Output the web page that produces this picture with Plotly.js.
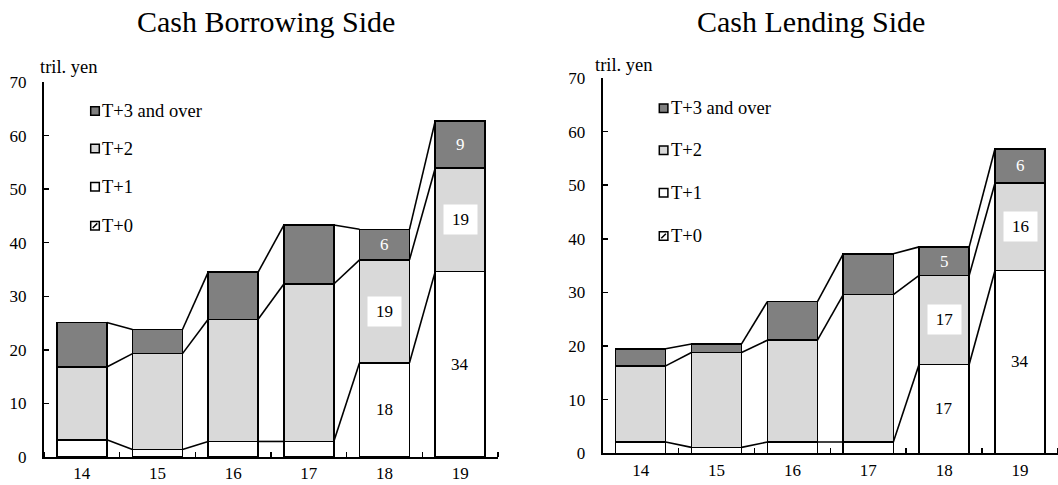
<!DOCTYPE html>
<html>
<head>
<meta charset="utf-8">
<script src="https://cdn.plot.ly/plotly-3.0.1.min.js"></script>
<style>html,body{margin:0;padding:0;background:#fff;}#chart{width:1058px;height:485px;}</style>
</head>
<body>
<div id="chart"></div>
<script>
// ---------- data ----------
const categories = ["14", "15", "16", "17", "18", "19"];
const seriesNames = ["T+3 and over", "T+2", "T+1", "T+0"];

const borrowT0 = [0, 0, 0, 0, 0, 0];
const borrowT1 = [3.2, 1.4, 2.9, 2.9, 17.6, 34.6];
const borrowT2 = [13.6, 17.9, 22.8, 29.4, 19.2, 19.3];
const borrowT3 = [8.3, 4.5, 8.8, 11.0, 5.7, 8.8];
const borrowLabelT1 = ["", "", "", "", "18", "34"];
const borrowLabelT2 = ["", "", "", "", "19", "19"];
const borrowLabelT3 = ["", "", "", "", "6", "9"];

const lendT0 = [0, 0, 0, 0, 0, 0];
const lendT1 = [2.1, 1.1, 2.1, 2.1, 16.6, 34.1];
const lendT2 = [14.2, 17.7, 19.0, 27.5, 16.6, 16.3];
const lendT3 = [3.2, 1.6, 7.2, 7.6, 5.3, 6.4];
const lendLabelT1 = ["", "", "", "", "17", "34"];
const lendLabelT2 = ["", "", "", "", "17", "16"];
const lendLabelT3 = ["", "", "", "", "5", "6"];

const yTickVals = [0, 10, 20, 30, 40, 50, 60, 70];
const unitLabel = "tril. yen";
const titleLeft = "Cash Borrowing Side";
const titleRight = "Cash Lending Side";

// ---------- style ----------
const W = 1058, H = 485;
const FONT = "Liberation Serif";
const BW = 0.66;
const C3 = "#808080", C2 = "#d9d9d9", C1 = "#ffffff";
const LW = 1.6;
const px = x => x / W;
const py = y => 1 - y / H;

const traces = [];
const annotations = [];
const shapes = [];

function panel(xa, ya, t0, t1, t2, t3, l1, l2, l3) {
  const xs = categories.map((c, i) => i);
  const segs = [
    {v: t0, fill: "#ffffff", pattern: {shape: "/", fgcolor: "#000", bgcolor: "#fff", size: 4, solidity: 0.2}},
    {v: t1, fill: C1},
    {v: t2, fill: C2},
    {v: t3, fill: C3}
  ];
  segs.forEach((s, k) => {
    const m = {color: s.fill, line: {color: "#000", width: LW}};
    if (s.pattern) m.pattern = s.pattern;
    traces.push({type: "bar", x: xs, y: s.v, width: BW, marker: m, xaxis: xa, yaxis: ya,
      showlegend: false, hoverinfo: "skip"});
  });
  // cumulative tops
  const top1 = xs.map(i => t0[i] + t1[i]);
  const top2 = xs.map(i => top1[i] + t2[i]);
  const top3 = xs.map(i => top2[i] + t3[i]);
  [top1, top2, top3].forEach(top => {
    const lx = [], ly = [];
    for (let i = 0; i < xs.length - 1; i++) {
      lx.push(xs[i] + BW / 2, xs[i + 1] - BW / 2, null);
      ly.push(top[i], top[i + 1], null);
    }
    traces.push({type: "scatter", mode: "lines", x: lx, y: ly, xaxis: xa, yaxis: ya,
      line: {color: "#000", width: LW}, showlegend: false, hoverinfo: "skip"});
  });
  const xr = xa === "x" ? "x" : "x2";
  const yr = ya === "y" ? "y" : "y2";
  xs.forEach(i => {
    if (l1[i]) annotations.push({x: i, y: t0[i] + t1[i] / 2, xref: xr, yref: yr, text: l1[i], showarrow: false,
      font: {family: FONT, size: 17, color: "#000"}});
    if (l2[i]) annotations.push({x: i, y: top1[i] + t2[i] / 2, xref: xr, yref: yr, text: l2[i], showarrow: false,
      font: {family: FONT, size: 17, color: "#000"}, bgcolor: "#ffffff", width: 31, height: 27});
    if (l3[i]) annotations.push({x: i, y: top2[i] + t3[i] / 2, xref: xr, yref: yr, text: l3[i], showarrow: false,
      font: {family: FONT, size: 17, color: "#ffffff"}});
  });
}

panel("x", "y", borrowT0, borrowT1, borrowT2, borrowT3, borrowLabelT1, borrowLabelT2, borrowLabelT3);
panel("x2", "y2", lendT0, lendT1, lendT2, lendT3, lendLabelT1, lendLabelT2, lendLabelT3);

// manual legends
function legend(sqX, textX, rows) {
  const fills = [C3, C2, C1, "#ffffff"];
  const S = 8.6;
  seriesNames.forEach((n, k) => {
    const cy = rows[k];
    shapes.push({type: "rect", xref: "paper", yref: "paper", x0: px(sqX), x1: px(sqX + S),
      y0: py(cy + S / 2), y1: py(cy - S / 2), fillcolor: fills[k], line: {color: "#000", width: 1.5}});
    if (k === 3) {
      shapes.push({type: "line", xref: "paper", yref: "paper", x0: px(sqX + 2), x1: px(sqX + S - 2),
        y0: py(cy + S / 2 - 2), y1: py(cy - S / 2 + 2), line: {color: "#000", width: 1.5}});
    }
    annotations.push({xref: "paper", yref: "paper", x: px(textX), y: py(cy), xanchor: "left", yanchor: "middle",
      text: n, showarrow: false, font: {family: FONT, size: 18.5, color: "#000"}});
  });
}
legend(90.7, 100, [111, 148.5, 186.7, 225.7]);
legend(659.3, 669, [108.3, 150.3, 192.7, 236]);

// titles & units
annotations.push({xref: "paper", yref: "paper", x: px(266), y: py(22), xanchor: "center", yanchor: "middle",
  text: titleLeft, showarrow: false, font: {family: FONT, size: 30, color: "#000"}});
annotations.push({xref: "paper", yref: "paper", x: px(811), y: py(22), xanchor: "center", yanchor: "middle",
  text: titleRight, showarrow: false, font: {family: FONT, size: 30, color: "#000"}});
annotations.push({xref: "paper", yref: "paper", x: px(38), y: py(67), xanchor: "left", yanchor: "middle",
  text: unitLabel, showarrow: false, font: {family: FONT, size: 18.5, color: "#000"}});
annotations.push({xref: "paper", yref: "paper", x: px(593), y: py(65), xanchor: "left", yanchor: "middle",
  text: unitLabel, showarrow: false, font: {family: FONT, size: 18.5, color: "#000"}});

function xAxis(domain, anchor) {
  return {domain: domain, anchor: anchor, range: [-0.5, 5.5], fixedrange: true,
    tickmode: "array", tickvals: categories.map((c, i) => i), ticktext: categories,
    ticks: "", showgrid: false, zeroline: false, showline: true, linecolor: "#000", linewidth: 2,
    tickfont: {family: FONT, size: 17, color: "#000"}, ticklabelstandoff: 0,
    minor: {tickmode: "linear", tick0: 0.5, dtick: 1, ticks: "inside", ticklen: 5, tickwidth: 1.5, tickcolor: "#000", showgrid: false}};
}
function yAxis(domain, anchor) {
  return {domain: domain, anchor: anchor, range: [0, 70], fixedrange: true,
    tickmode: "array", tickvals: yTickVals, ticks: "inside", ticklen: 5, tickwidth: 1.5, tickcolor: "#000",
    showgrid: false, zeroline: false, showline: true, linecolor: "#000", linewidth: 2,
    tickfont: {family: FONT, size: 17, color: "#000"}, ticklabelstandoff: 12};
}

const layout = {
  width: W, height: H,
  font: {family: FONT, color: "#000"},
  margin: {l: 0, r: 0, t: 0, b: 0, pad: 0},
  paper_bgcolor: "#fff", plot_bgcolor: "rgba(0,0,0,0)",
  barmode: "stack", showlegend: false,
  xaxis: xAxis([px(44), px(498)], "y"),
  yaxis: yAxis([py(457), py(82)], "x"),
  xaxis2: xAxis([px(602.7), 1], "y2"),
  yaxis2: yAxis([py(453.3), py(78)], "x2"),
  annotations: annotations,
  shapes: shapes
};

Plotly.newPlot("chart", traces, layout, {staticPlot: true, displayModeBar: false});
</script>
</body>
</html>
